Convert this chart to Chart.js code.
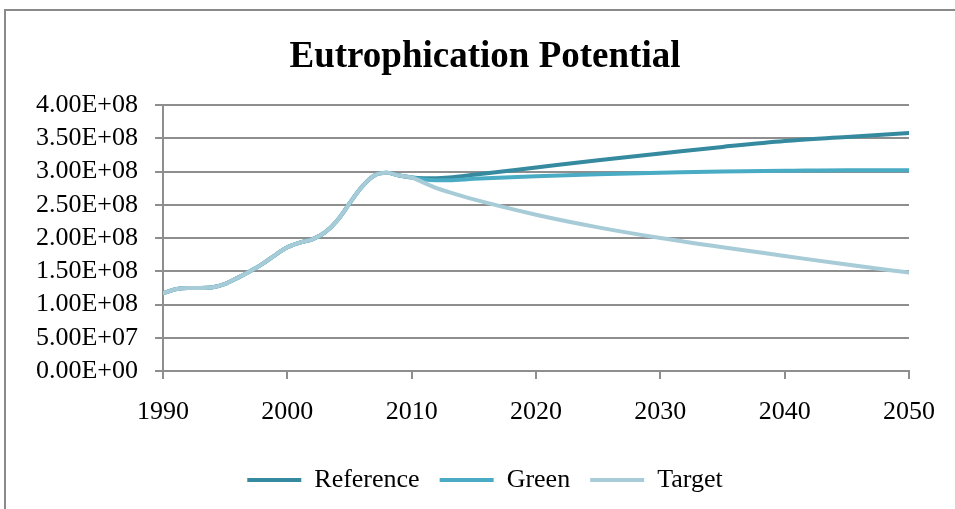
<!DOCTYPE html>
<html lang="en">
<head>
  <meta charset="UTF-8" />
  <title>Eutrophication Potential</title>
  <script src="https://cdn.jsdelivr.net/npm/chart.js"></script>
  <style>
    html, body {
      margin: 0;
      padding: 0;
      width: 955px;
      height: 509px;
      overflow: hidden;
      background: #fff;
    }
    .frame {
      position: absolute;
      left: 4px;
      top: 9px;
      width: 1000px;
      height: 600px;
      border-left: 2px solid #8a8a8a;
      border-top: 2px solid #8a8a8a;
    }
    #epChart {
      position: absolute;
      left: 0;
      top: 0;
    }
  </style>
</head>
<body>
  <div class="frame"></div>
  <canvas id="epChart" width="970" height="503"></canvas>

  <script>
    // historical values, shared by all scenarios
    const histYears = [1990, 1991, 1992, 1993, 1994, 1995, 1996, 1997, 1998, 1999, 2000,
                       2001, 2002, 2003, 2004, 2005, 2006, 2007, 2008, 2009, 2010];
    const histValues = [1.17e8, 1.23e8, 1.25e8, 1.25e8, 1.26e8, 1.31e8, 1.40e8, 1.50e8, 1.61e8, 1.74e8, 1.86e8,
                        1.93e8, 1.98e8, 2.08e8, 2.26e8, 2.52e8, 2.77e8, 2.94e8, 2.98e8, 2.94e8, 2.91e8];

    // scenario projections
    const projYears = [2011, 2012, 2013, 2015, 2020, 2025, 2030, 2035, 2040, 2045, 2050];
    const referenceProj = [2.90e8, 2.90e8, 2.91e8, 2.95e8, 3.06e8, 3.17e8, 3.27e8, 3.37e8, 3.46e8, 3.52e8, 3.58e8];
    const greenProj = [2.88e8, 2.87e8, 2.87e8, 2.89e8, 2.93e8, 2.96e8, 2.98e8, 3.00e8, 3.01e8, 3.02e8, 3.02e8];
    const targetProj = [2.83e8, 2.75e8, 2.69e8, 2.58e8, 2.35e8, 2.16e8, 2.00e8, 1.86e8, 1.73e8, 1.60e8, 1.48e8];

    const seriesNames = ['Reference', 'Green', 'Target'];
    const seriesColors = ['#358a9f', '#4aabc5', '#a7ccd8'];

    const FONT = "'Liberation Serif', 'Times New Roman', serif";
    const GRID = '#8e8e8e';

    function toPoints(proj) {
      const years = histYears.concat(projYears);
      const vals = histValues.concat(proj);
      return years.map((x, i) => ({ x: x, y: vals[i] }));
    }

    function sci(v) {
      const [m, e] = Number(v).toExponential(2).split('e');
      const n = Math.abs(parseInt(e, 10));
      return m + 'E' + (e[0] === '-' ? '-' : '+') + String(n).padStart(2, '0');
    }

    const projections = [referenceProj, greenProj, targetProj];

    new Chart(document.getElementById('epChart'), {
      type: 'line',
      data: {
        datasets: seriesNames.map((name, i) => ({
          label: name,
          data: toPoints(projections[i]),
          borderColor: seriesColors[i],
          backgroundColor: seriesColors[i],
          borderWidth: 4,
          borderCapStyle: 'round',
          borderJoinStyle: 'round',
          pointRadius: 0,
          cubicInterpolationMode: 'monotone',
          order: 3 - i   // later series drawn on top
        }))
      },
      options: {
        responsive: false,
        animation: false,
        layout: { padding: 0 },
        plugins: {
          tooltip: { enabled: false },
          title: {
            display: true,
            text: 'Eutrophication Potential',
            color: '#000',
            font: { family: FONT, size: 37, weight: 'bold', lineHeight: 1.2 },
            padding: { top: 35, bottom: 25.6 }
          },
          legend: {
            position: 'bottom',
            labels: {
              color: '#000',
              font: { family: FONT, size: 26 },
              boxWidth: 54,
              boxHeight: 4,
              padding: 20,
              sort: (a, b) => a.datasetIndex - b.datasetIndex,
              generateLabels(chart) {
                const items = Chart.defaults.plugins.legend.labels.generateLabels(chart);
                items.forEach(it => { it.lineWidth = 0; it.fillStyle = it.strokeStyle; });
                return items;
              }
            }
          }
        },
        scales: {
          x: {
            type: 'linear',
            min: 1990,
            max: 2050,
            afterFit(scale) { scale.height = 76; },
            ticks: {
              stepSize: 10,
              autoSkip: false,
              color: '#000',
              padding: 18,
              maxRotation: 0,
              font: { family: FONT, size: 26 },
              callback: v => String(v)
            },
            grid: {
              drawOnChartArea: false,
              drawTicks: true,
              tickLength: 8,
              color: GRID,
              lineWidth: 2
            },
            border: { display: true, color: GRID, width: 2 }
          },
          y: {
            min: 0,
            max: 4e8,
            afterFit(scale) { scale.width = 163; },
            ticks: {
              stepSize: 5e7,
              autoSkip: false,
              color: '#000',
              padding: 17,
              font: { family: FONT, size: 26 },
              callback: v => sci(v)
            },
            grid: {
              color: GRID,
              lineWidth: 2,
              tickLength: 8
            },
            border: { display: true, color: GRID, width: 2 }
          },
          // empty right-hand margin so the plot ends short of the canvas edge
          pad: {
            type: 'linear',
            position: 'right',
            min: 0,
            max: 1,
            afterFit(scale) { scale.width = 61; },
            ticks: { display: false },
            grid: { display: false },
            border: { display: false }
          }
        }
      }
    });
  </script>
</body>
</html>
